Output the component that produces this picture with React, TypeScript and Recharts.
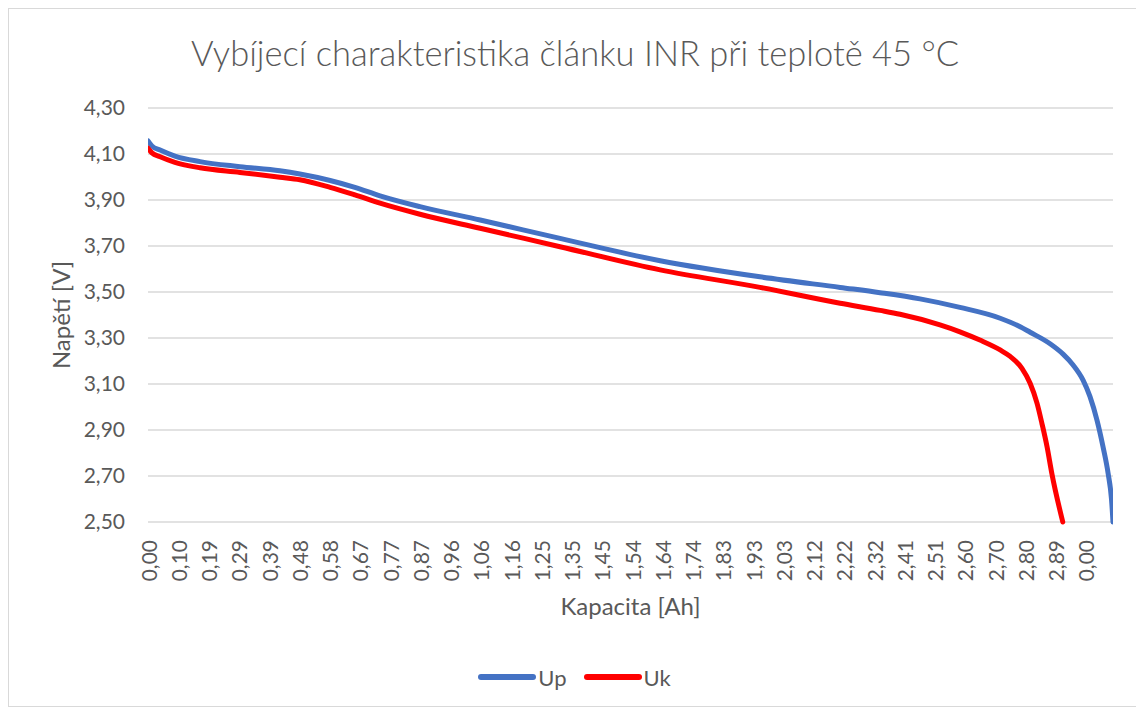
import React from "react";
import { LineChart, Line, XAxis, YAxis, CartesianGrid, Legend, Label } from "recharts";

const TITLE = "Vybíjecí charakteristika článku INR při teplotě 45 °C";

// category tick labels (Kapacita [Ah]) shown every label step
const xLabels = [
  "0,00", "0,10", "0,19", "0,29", "0,39", "0,48", "0,58", "0,67", "0,77", "0,87",
  "0,96", "1,06", "1,16", "1,25", "1,35", "1,45", "1,54", "1,64", "1,74", "1,83",
  "1,93", "2,03", "2,12", "2,22", "2,32", "2,41", "2,51", "2,60", "2,70", "2,80",
  "2,89", "0,00",
];
const xTicks = xLabels.map((_, i) => i);

const yTicks = [2.5, 2.7, 2.9, 3.1, 3.3, 3.5, 3.7, 3.9, 4.1, 4.3];

const seriesOrder = ["Up", "Uk"];

// Up series: position (in label steps) and voltage
const upX = [0, 0.13, 0.4, 0.89, 1.72, 3.04, 4.36, 5.02, 6.02, 6.84, 7.67, 8.99, 10.98, 13.62, 16.93, 20.23, 22.88, 24.2, 25.52, 26.84, 28.17, 28.83, 29.16, 29.82, 30.25, 30.58, 30.91, 31.14, 31.37, 31.57, 31.74, 31.85, 31.9];
const upV = [4.157, 4.135, 4.117, 4.091, 4.067, 4.045, 4.027, 4.013, 3.985, 3.955, 3.918, 3.871, 3.813, 3.733, 3.636, 3.566, 3.52, 3.497, 3.47, 3.433, 3.386, 3.349, 3.325, 3.275, 3.23, 3.183, 3.117, 3.045, 2.943, 2.827, 2.71, 2.6, 2.5];

// Uk series
const ukX = [0, 0.13, 0.4, 0.89, 1.72, 3.04, 4.36, 5.02, 6.02, 6.84, 7.67, 8.99, 10.98, 13.62, 16.93, 20.23, 22.88, 24.2, 24.86, 26.18, 26.84, 27.5, 28.17, 28.5, 28.89, 29.16, 29.39, 29.55, 29.72, 29.88, 30.24];
const ukV = [4.125, 4.105, 4.088, 4.064, 4.04, 4.02, 3.999, 3.988, 3.955, 3.922, 3.886, 3.838, 3.777, 3.697, 3.596, 3.52, 3.451, 3.42, 3.403, 3.357, 3.327, 3.291, 3.248, 3.22, 3.168, 3.103, 3.016, 2.929, 2.827, 2.71, 2.5];

type Row = { x: number; Up: number | null; Uk: number | null };

function buildRows(): Row[] {
  const map = new Map<number, Row>();
  upX.forEach((x, i) => {
    const r = map.get(x) || { x, Up: null, Uk: null };
    r.Up = upV[i];
    map.set(x, r);
  });
  ukX.forEach((x, i) => {
    const r = map.get(x) || { x, Up: null, Uk: null };
    r.Uk = ukV[i];
    map.set(x, r);
  });
  return Array.from(map.values()).sort((a, b) => a.x - b.x);
}

const rows = buildRows();

const FONT = "Lato, 'Open Sans', sans-serif";
const TEXT = "#595959";

const XTick = (props: any) => {
  const { x, y, payload } = props;
  return (
    <text
      x={x}
      y={y}
      transform={`rotate(-90 ${x} ${y})`}
      textAnchor="end"
      dominantBaseline="central"
      fill={TEXT}
      fontSize={21}
      fontFamily={FONT}
    >
      {xLabels[payload.value]}
    </text>
  );
};

const LegendContent = (props: any) => {
  const items = [...(props.payload || [])].sort(
    (a: any, b: any) => seriesOrder.indexOf(a.value) - seriesOrder.indexOf(b.value)
  );
  return (
    <div
      style={{
        display: "flex",
        justifyContent: "center",
        alignItems: "center",
        height: 30,
        fontFamily: FONT,
        fontSize: 22,
        color: TEXT,
      }}
    >
      {items.map((it: any, idx: number) => (
        <div
          key={it.value}
          style={{ display: "flex", alignItems: "center", marginRight: idx < items.length - 1 ? 16 : 0 }}
        >
          <svg width={60} height={10}>
            <line x1={4} y1={5} x2={56} y2={5} stroke={it.color} strokeWidth={6} strokeLinecap="round" />
          </svg>
          <span style={{ marginLeft: 1 }}>{it.value}</span>
        </div>
      ))}
    </div>
  );
};

export default function App() {
  return (
    <div
      style={{
        position: "relative",
        width: 1132,
        height: 697,
        border: "1px solid #d9d9d9",
        background: "#fff",
      }}
    >
      <div
        style={{
          position: "absolute",
          top: 24,
          left: 0,
          width: 1132,
          textAlign: "center",
          fontFamily: FONT,
          fontWeight: 300,
          fontSize: 34.5,
          color: TEXT,
          lineHeight: "40px",
          zIndex: 2,
        }}
      >
        {TITLE}
      </div>
      <LineChart
        width={1130}
        height={695}
        data={rows}
        margin={{ top: 99, right: 26, left: 0, bottom: 0 }}
      >
        <CartesianGrid vertical={false} stroke="#d9d9d9" strokeWidth={1.5} />
        <XAxis
          dataKey="x"
          type="number"
          domain={[0, 31.9]}
          ticks={xTicks}
          interval={0}
          allowDataOverflow
          axisLine={false}
          tickLine={false}
          tickSize={0}
          tickMargin={18}
          height={182}
          tick={<XTick />}
        >
          <Label
            value="Kapacita [Ah]"
            position="insideTop"
            offset={76}
            style={{ fontFamily: FONT, fontSize: 24, fill: TEXT }}
          />
        </XAxis>
        <YAxis
          type="number"
          domain={[2.5, 4.3]}
          ticks={yTicks}
          interval={0}
          width={139}
          axisLine={false}
          tickLine={false}
          tickSize={0}
          tickMargin={23}
          tickFormatter={(v: number) => v.toFixed(2).replace(".", ",")}
          tick={{ fill: TEXT, fontSize: 21, fontFamily: FONT }}
        >
          <Label
            value="Napětí [V]"
            position="center"
            angle={-90}
            dx={-17}
            style={{ fontFamily: FONT, fontSize: 24, fill: TEXT, textAnchor: "middle" }}
          />
        </YAxis>
        <Legend
          layout="horizontal"
          verticalAlign="middle"
          align="center"
          wrapperStyle={{ top: 653, left: 0, width: 1130, height: 30 }}
          content={<LegendContent />}
        />
        <Line
          type="monotone"
          dataKey="Up"
          name="Up"
          stroke="#4472C4"
          strokeWidth={5}
          strokeLinecap="round"
          dot={false}
          connectNulls
          isAnimationActive={false}
        />
        <Line
          type="monotone"
          dataKey="Uk"
          name="Uk"
          stroke="#FF0000"
          strokeWidth={5}
          strokeLinecap="round"
          dot={false}
          connectNulls
          isAnimationActive={false}
        />
      </LineChart>
    </div>
  );
}
